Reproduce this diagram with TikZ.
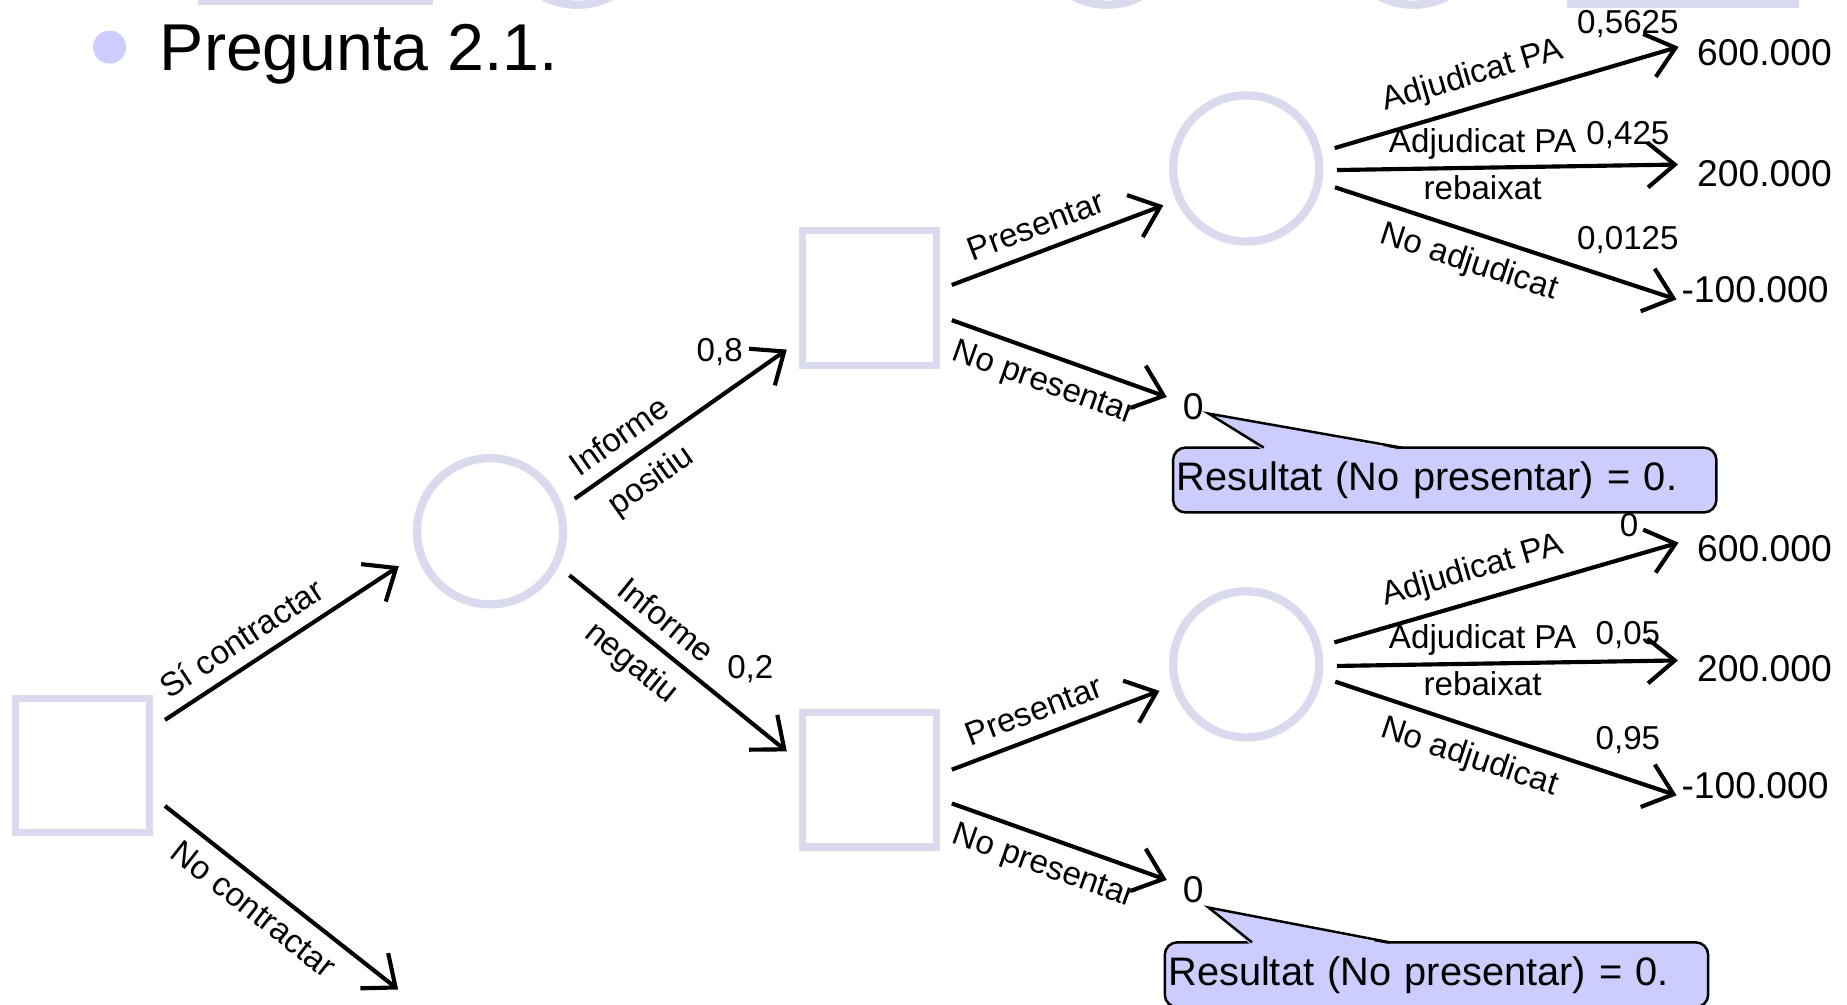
\documentclass[tikz,border=0pt]{standalone}
\usepackage{fontspec}
\setmainfont{Liberation Sans}
\usetikzlibrary{arrows.meta,calc}
\definecolor{nodeline}{RGB}{218,218,238}
\definecolor{callfill}{RGB}{204,204,255}
\tikzset{>={Straight Barb[length=2.3mm,width=3.8mm]},
 dec/.style={draw=nodeline,line width=1.7pt,minimum width=1.14cm,minimum height=1.14cm,outer sep=.13cm},
 chance/.style={circle,draw=nodeline,line width=2pt,minimum size=1.24cm,outer sep=.15cm},
 branch/.style={line width=1pt,->},
 lab/.style={font=\fontsize{8}{9}\selectfont,inner sep=3pt},
 flat/.style={font=\fontsize{8}{9}\selectfont,inner sep=1.5pt},
 prob/.style={font=\fontsize{8}{9}\selectfont,inner sep=1pt},
 pay/.style={font=\fontsize{9}{10}\selectfont,inner sep=1pt},
 callbox/.style={fill=callfill,draw=black,line width=.6pt,rounded corners=3pt,minimum width=4.61cm,minimum height=.55cm,text width=4.55cm,inner sep=.03cm,outer sep=0pt,align=left,font=\fontsize{9.6}{11}\selectfont}}

\begin{document}
\begin{tikzpicture}[x=.01cm,y=-.01cm]
\useasboundingbox (0,0) rectangle (1568,853);\clip (0,0) rectangle (1568,853);
% restes de la diapositiva anterior
\draw[nodeline,line width=1.7pt] (171,-60) rectangle (365,1);\fill[nodeline] (1330,-10) rectangle (1527,7);
\foreach \cx in {490,940,1200} \draw[nodeline,line width=2pt] (\cx,-58) circle (62);
% titol
\fill[callfill] (93,40) circle (14);
\node[anchor=base west,inner sep=0pt,font=\fontsize{16}{19}\selectfont] (tit) at (135,60) {Pregunta 2.1.};
% nodes de l'arbre
\node[dec] (d1) at (70,650) {};\node[chance] (c1) at (416,451) {};
\node[dec] (d2) at (738,253) {};\node[dec] (d3) at (738,662) {};
\node[chance] (c2) at (1058,143) {};\node[chance] (c3) at (1058,564) {};
\node[pay] (z1) at (1013,345) {0};\node[pay] (z2) at (1013,755) {0};
\node[pay] (o1) at (1498,45) {600.000};\node[pay] (o2) at (1498,147) {200.000};\node[pay] (o3) at (1490,246) {-100.000};
\node[pay] (o4) at (1498,466) {600.000};\node[pay] (o5) at (1498,568) {200.000};\node[pay] (o6) at (1490,667) {-100.000};
\coordinate (nc) at (338,840);
% contractar o no
\draw[branch,shorten >=.06cm] (d1.29) -- node[lab,sloped,above,pos=.38]{Sí contractar} (c1.200);
\draw[branch] (d1.-26) -- node[lab,sloped,below,pos=.45]{No contractar} (nc);
\draw[branch] (c1.21) -- node[lab,sloped,above,pos=.28]{Informe} node[lab,sloped,below,pos=.28]{positiu} (d2.212);
\draw[branch] (c1.-29) -- node[lab,sloped,above,pos=.37]{Informe} node[lab,sloped,below,pos=.37]{negatiu} (d3.161);
\node[prob] (q1) at (611,299) {0,8};\node[prob] (q2) at (637,568) {0,2};
% informe positiu
\draw[branch] (d2.9) -- node[lab,sloped,above,pos=.44]{Presentar} (c2.204);
\draw[branch,shorten >=.1cm] (d2.-15) -- node[lab,sloped,below,pos=.45]{No presentar} (z1);
\draw[branch,shorten >=.12cm] (c2.13) -- node[lab,sloped,above,pos=.41]{Adjudicat PA} (o1.172);
\draw[branch,shorten >=.12cm] (c2.-1) -- node[flat,above,pos=.41]{Adjudicat PA} node[flat,below,pos=.41]{rebaixat} (o2.173);
\draw[branch] (c2.-12) -- node[lab,sloped,below,pos=.42]{No adjudicat} (o3.187);
\node[prob] (p1) at (1382,20) {0,5625};\node[prob] (p2) at (1382,115) {0,425};\node[prob] (p3) at (1382,204) {0,0125};
% informe negatiu
\draw[branch] (d3.7) -- node[lab,sloped,above,pos=.44]{Presentar} (c3.197);
\draw[branch,shorten >=.1cm] (d3.-16) -- node[lab,sloped,below,pos=.45]{No presentar} (z2);
\draw[branch,shorten >=.12cm] (c3.14) -- node[lab,sloped,above,pos=.41]{Adjudicat PA} (o4.172);
\draw[branch,shorten >=.12cm] (c3.-1) -- node[flat,above,pos=.41]{Adjudicat PA} node[flat,below,pos=.41]{rebaixat} (o5.173);
\draw[branch] (c3.-11) -- node[lab,sloped,below,pos=.42]{No adjudicat} (o6.187);
\node[prob] (p4) at (1383,446) {0};\node[prob] (p5) at (1382,539) {0,05};\node[prob] (p6) at (1382,628) {0,95};
% bafarades
\node[callbox] (r1) at (1226.5,407.5) {Resultat (No presentar) = 0.};
\fill[callfill] ($(r1.north west)+(76,2)$) -- (z1.-25) -- ($(r1.north west)+(195,2)$);
\draw[line width=.6pt] ($(r1.north west)+(77,0)$) -- (z1.-25) -- ($(r1.north west)+(194,0)$);
\node[callbox] (r2) at (1219.5,827.5) {Resultat (No presentar) = 0.};
\fill[callfill] ($(r2.north west)+(73,2)$) -- (z2.-50) -- ($(r2.north west)+(192,2)$);
\draw[line width=.6pt] ($(r2.north west)+(74,0)$) -- (z2.-50) -- ($(r2.north west)+(191,0)$);
\end{tikzpicture}
\end{document}
